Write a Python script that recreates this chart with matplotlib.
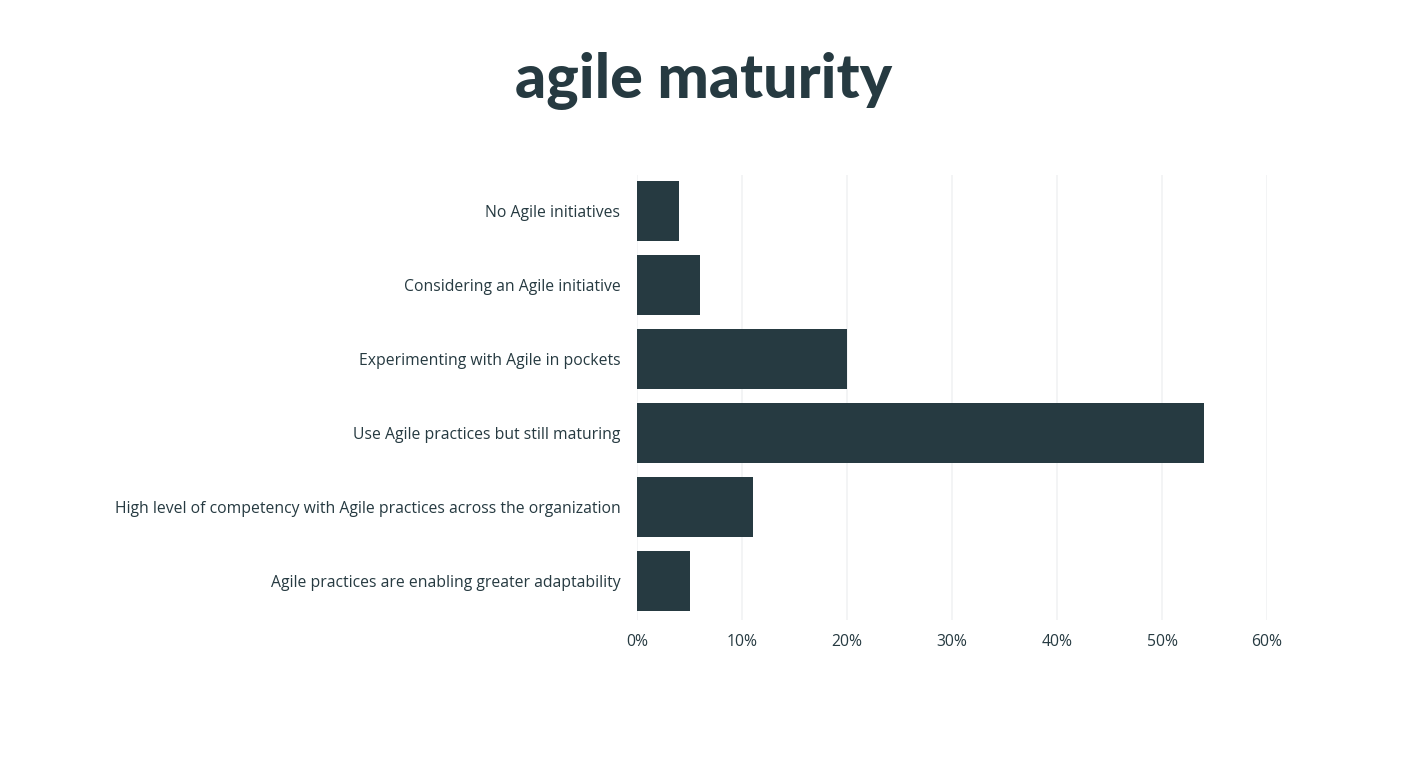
import matplotlib
matplotlib.use("Agg")
import matplotlib.pyplot as plt
from matplotlib.ticker import FuncFormatter

# ------------------------------------------------------------
# Data
# ------------------------------------------------------------

categories = [
    "No Agile initiatives",
    "Considering an Agile initiative",
    "Experimenting with Agile in pockets",
    "Use Agile practices but still maturing",
    "High level of competency with Agile practices across the organization",
    "Agile practices are enabling greater adaptability",
]

values = [4, 6, 20, 54, 11, 5]

x_ticks = [0, 10, 20, 30, 40, 50, 60]

BAR_COLOR = "#263a41"
TEXT_COLOR = "#263a41"
GRID_COLOR = "#f1f2f3"

plt.rcParams["font.family"] = ["Open Sans", "DejaVu Sans"]

fig = plt.figure(figsize=(14.22, 7.6), dpi=100)
ax = fig.add_axes([0.448, 0.184, 0.443, 0.586])

ax.barh(range(len(categories)), values, height=0.8, color=BAR_COLOR)

ax.set_xlim(0, 60)
ax.set_ylim(5.53, -0.49)

ax.set_xticks(x_ticks)
ax.xaxis.set_major_formatter(FuncFormatter(lambda v, p: f"{v:.0f}%"))
ax.set_yticks(range(len(categories)))
ax.set_yticklabels(categories)

ax.tick_params(axis="both", length=0, labelsize=11.3, labelcolor=TEXT_COLOR)
ax.tick_params(axis="x", pad=10)
ax.tick_params(axis="y", pad=12)

ax.grid(axis="x", color=GRID_COLOR, linewidth=1.2)
ax.set_axisbelow(True)
for side in ["top", "right", "bottom", "left"]:
    ax.spines[side].set_visible(False)

fig.text(0.495, 0.893, "agile maturity", ha="center", va="center",
         fontsize=44, fontweight="black", color=TEXT_COLOR,
         family=["Lato", "DejaVu Sans"])

fig.savefig("out.png", dpi=100, facecolor="white")
